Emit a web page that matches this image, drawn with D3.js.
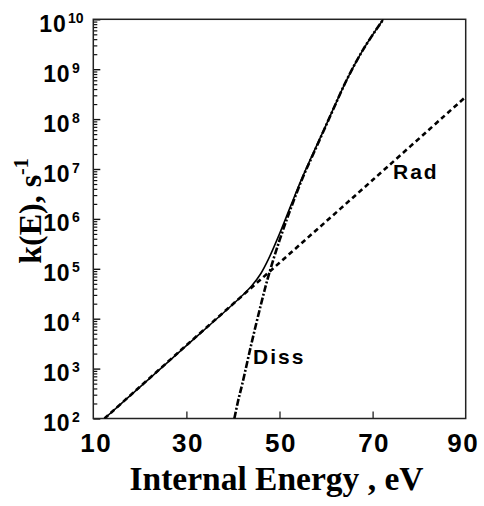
<!DOCTYPE html>
<html>
<head>
<meta charset="utf-8">
<script src="https://cdn.jsdelivr.net/npm/d3@7"></script>
<style>
  html, body { margin: 0; padding: 0; background: #fff; }
  svg { display: block; }
</style>
</head>
<body>
<script>
// ---- data ----
const xTicks = [10, 30, 50, 70, 90];
const yExponents = [2, 3, 4, 5, 6, 7, 8, 9, 10];

// Radiative rate (dashed) — straight line on log axis
const radE = [12.4, 28.5, 50, 70, 90];
const radK = [1e2, 2.2e3, 1.32e5, 6.0e6, 2.8e8];

// Dissociation rate (dash-dot)
const dissE = [40.3, 41.1, 42, 44, 46, 47.6, 50, 52.3, 55, 57.3, 60.9, 64.4, 68, 72.3];
const dissK = [1e2, 2.24e2, 4.9e2, 3.24e3, 1.9e4, 7.08e4, 3.7e5, 1.51e6, 6.76e6, 2.04e7, 1.15e8, 6.0e8, 2.5e9, 1e10];

// Total rate (solid)
const totE = [12.4, 20, 30, 40, 42, 44, 46, 47.6, 50, 52.3, 55, 60, 64.4, 68, 72.3];
const totK = [1e2, 4.27e2, 2.88e3, 1.95e4, 2.92e4, 4.51e4, 8.05e4, 1.54e5, 5.0e5, 1.72e6, 7.1e6, 7.6e7, 6.0e8, 2.5e9, 1e10];

const W = 484, H = 506;
const L = 93.3, R = 465.7, T = 19.3, B = 418.5;

const svg = d3.select("body").append("svg").attr("width", W).attr("height", H);

const x = d3.scaleLinear().domain([10, 90]).range([L, R]);
const y = d3.scaleLog().domain([1e2, 1e10]).range([B, T]);

svg.append("clipPath").attr("id", "clip").append("rect")
  .attr("x", L).attr("y", T).attr("width", R - L).attr("height", B - T);

// minor y ticks
const minorVals = [];
yExponents.slice(0, -1).forEach(e => { for (let m = 2; m <= 9; m++) minorVals.push(m * Math.pow(10, e)); });
svg.append("g").attr("transform", `translate(${L},0)`)
  .call(d3.axisLeft(y).tickValues(minorVals).tickSize(-4).tickFormat(""))
  .call(g => g.select(".domain").remove())
  .call(g => g.selectAll("line").attr("stroke", "#111").attr("stroke-width", 1.2));

svg.append("g").attr("transform", `translate(${L},0)`)
  .call(d3.axisLeft(y).tickValues(yExponents.map(e => Math.pow(10, e))).tickSize(-7).tickFormat(""))
  .call(g => g.select(".domain").remove())
  .call(g => g.selectAll("line").attr("stroke", "#111").attr("stroke-width", 1.4));

svg.append("g").attr("transform", `translate(0,${B})`)
  .call(d3.axisBottom(x).tickValues(xTicks.slice(1, -1)).tickSize(-7).tickFormat(""))
  .call(g => g.select(".domain").remove())
  .call(g => g.selectAll("line").attr("stroke", "#111").attr("stroke-width", 1.2));

// frame
svg.append("rect").attr("x", L).attr("y", T).attr("width", R - L).attr("height", B - T)
  .attr("fill", "none").attr("stroke", "#222").attr("stroke-width", 1.5);

// y tick labels
const yl = svg.append("g").attr("font-family", "'Liberation Sans', Arial, sans-serif")
  .attr("font-weight", "bold").attr("fill", "#000");
yExponents.forEach(e => {
  const yy = y(Math.pow(10, e));
  const t = yl.append("text").attr("x", 61.5).attr("y", yy + 12.5).attr("text-anchor", "middle");
  t.append("tspan").attr("font-size", 23).attr("letter-spacing", 0.8).text("10");
  t.append("tspan").attr("font-size", 14).attr("dx", 1.5).attr("dy", -9).text(e);
});

// x tick labels
svg.append("g").selectAll("text").data(xTicks).join("text")
  .attr("x", d => x(d) + (d === 10 ? 3 : (d === 90 ? -2.5 : 1.5)))
  .attr("y", 452)
  .attr("text-anchor", "middle")
  .attr("font-family", "'Liberation Sans', Arial, sans-serif")
  .attr("font-weight", "bold").attr("font-size", 26).attr("letter-spacing", 1.5)
  .text(d => d);

// axis titles
svg.append("text").attr("x", 276.5).attr("y", 490).attr("text-anchor", "middle")
  .attr("font-family", "'Liberation Serif', 'Times New Roman', serif")
  .attr("font-weight", "bold").attr("font-size", 33.5)
  .text("Internal Energy , eV");

const yt = svg.append("text").attr("transform", "translate(41,211) rotate(-90)")
  .attr("text-anchor", "middle")
  .attr("font-family", "'Liberation Serif', 'Times New Roman', serif")
  .attr("font-weight", "bold").attr("font-size", 32);
yt.append("tspan").text("k(E), s");
yt.append("tspan").attr("font-size", 20).attr("dy", -13).text("-1");

// curves
const line = d3.line().x(d => x(d[0])).y(d => y(d[1])).curve(d3.curveCatmullRom.alpha(0.5));
const plot = svg.append("g").attr("clip-path", "url(#clip)");

plot.append("path").datum(d3.zip(totE, totK)).attr("d", line)
  .attr("fill", "none").attr("stroke", "#000").attr("stroke-width", 1.6);

plot.append("path").datum(d3.zip(radE, radK)).attr("d", line)
  .attr("fill", "none").attr("stroke", "#000").attr("stroke-width", 2.6)
  .attr("stroke-dasharray", "5,3.5");

plot.append("path").datum(d3.zip(dissE, dissK)).attr("d", line)
  .attr("fill", "none").attr("stroke", "#000").attr("stroke-width", 2.6)
  .attr("stroke-dasharray", "7,2,2,2");

// curve labels
const lab = svg.append("g").attr("font-family", "'Liberation Sans', Arial, sans-serif")
  .attr("font-weight", "bold").attr("font-size", 21).attr("letter-spacing", 2).attr("fill", "#000");
lab.append("text").attr("x", 393).attr("y", 179).text("Rad");
lab.append("text").attr("x", 253).attr("y", 364).text("Diss");
</script>
</body>
</html>
